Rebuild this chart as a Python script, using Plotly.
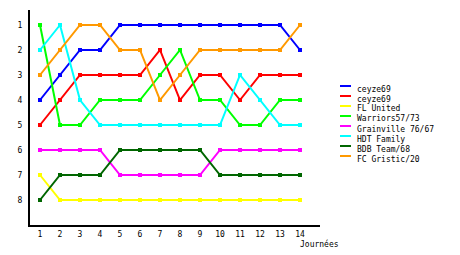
import plotly.graph_objects as go

days = list(range(1, 15))
names = ["ceyze69", "ceyze69", "FL United", "Warriors57/73", "Grainville 76/67",
         "HDT Family", "BDB Team/68", "FC Gristic/20"]
colors = ["#0000FF", "#FF0000", "#FFFF00", "#00FF00", "#FF00FF", "#00FFFF", "#006600", "#FF9900"]

ceyze69_blue = [4, 3, 2, 2, 1, 1, 1, 1, 1, 1, 1, 1, 1, 2]
ceyze69_red = [5, 4, 3, 3, 3, 3, 2, 4, 3, 3, 4, 3, 3, 3]
fl_united = [7, 8, 8, 8, 8, 8, 8, 8, 8, 8, 8, 8, 8, 8]
warriors = [1, 5, 5, 4, 4, 4, 3, 2, 4, 4, 5, 5, 4, 4]
grainville = [6, 6, 6, 6, 7, 7, 7, 7, 7, 6, 6, 6, 6, 6]
hdt_family = [2, 1, 4, 5, 5, 5, 5, 5, 5, 5, 3, 4, 5, 5]
bdb_team = [8, 7, 7, 7, 6, 6, 6, 6, 6, 7, 7, 7, 7, 7]
fc_gristic = [3, 2, 1, 1, 2, 2, 4, 3, 2, 2, 2, 2, 2, 1]

series = [ceyze69_blue, ceyze69_red, fl_united, warriors, grainville, hdt_family, bdb_team, fc_gristic]
y_ticks = list(range(1, 9))

FONT = "DejaVu Sans Mono"

fig = go.Figure()
for name, vals, col in zip(names, series, colors):
    fig.add_trace(go.Scatter(
        x=days, y=vals, name=name, mode="lines+markers",
        line=dict(color=col, width=2),
        marker=dict(symbol="square", size=4, color=col),
        showlegend=False,
    ))

W, H = 460, 255
ml, mr, mt, mb = 30, 140, 10, 30
pw, ph = W - ml - mr, H - mt - mb

def px_to_paper_x(px):
    return (px - ml) / pw

def px_to_paper_y(py):
    return (H - mb - py) / ph

shapes = []
annotations = []
for i, (name, col) in enumerate(zip(names, colors)):
    yy = 86 + 10 * i
    shapes.append(dict(type="line", xref="paper", yref="paper",
                       x0=px_to_paper_x(340), x1=px_to_paper_x(351),
                       y0=px_to_paper_y(yy), y1=px_to_paper_y(yy),
                       line=dict(color=col, width=2)))
    annotations.append(dict(text=name, xref="paper", yref="paper",
                            x=px_to_paper_x(355), y=px_to_paper_y(yy + 3),
                            xanchor="left", yanchor="middle", showarrow=False,
                            font=dict(family=FONT, size=8, color="black")))

annotations.append(dict(text="Journées", xref="x", yref="paper",
                        x=14, y=px_to_paper_y(244), xanchor="left", yanchor="middle",
                        xshift=-2, showarrow=False,
                        font=dict(family=FONT, size=8, color="black")))

fig.update_layout(
    width=W, height=H,
    margin=dict(l=ml, r=mr, t=mt, b=mb, pad=0),
    paper_bgcolor="white", plot_bgcolor="white",
    font=dict(family=FONT, size=8, color="black"),
    shapes=shapes, annotations=annotations,
    xaxis=dict(range=[0.5, 15], tickmode="array", tickvals=days,
               ticktext=[str(d) for d in days],
               showgrid=False, zeroline=False, showline=True,
               linecolor="black", linewidth=2, ticks="", ticklabelstandoff=0),
    yaxis=dict(range=[9, 0.4], tickmode="array", tickvals=y_ticks,
               ticktext=[str(v) for v in y_ticks],
               showgrid=False, zeroline=False, showline=True,
               linecolor="black", linewidth=2, ticks="", ticklabelstandoff=4),
)

fig.write_html("out.html")
